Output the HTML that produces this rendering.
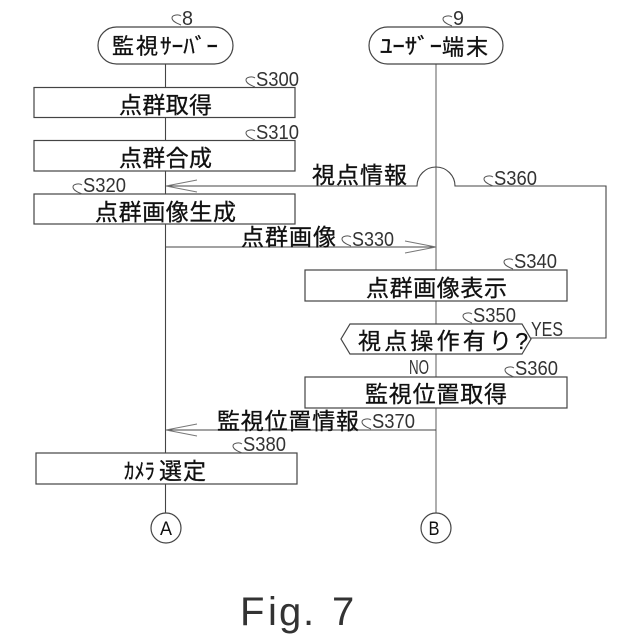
<!DOCTYPE html>
<html><head><meta charset="utf-8"><style>
html,body{margin:0;padding:0;background:#fff}
svg{display:block}
text{font-family:"Liberation Sans","Noto Sans CJK JP",sans-serif;fill:#111}
.j{font-size:23px;stroke:#111;stroke-width:.3}
.k{font-size:22px;stroke:#111;stroke-width:.3}
.s{font-size:20px;fill:#333}
.b{fill:#fff;stroke:#444;stroke-width:1.2}
.l{fill:none;stroke:#444;stroke-width:1.1}
.a{fill:none;stroke:#777;stroke-width:1}
.v{fill:none;stroke:#999;stroke-width:1.6}
.c{fill:none;stroke:#555;stroke-width:1}
</style></head><body>
<svg width="640" height="640" viewBox="0 0 640 640" xmlns="http://www.w3.org/2000/svg">
<path class="l" d="M165.500 64V513"/>
<path class="v" d="M436 64V513"/>
<path class="l" d="M166 186H417A19 19 0 0 1 455 186H606V338H531"/>
<path class="l" d="M166 247H436"/>
<path class="a" d="M405 241L436 247L405 253"/>
<path class="l" d="M436 430H166"/>
<path class="a" d="M197 424L166 430L197 436"/>
<path class="a" d="M197 180L166 186L197 192"/>
<rect class="b" x="98" y="27" width="135" height="37" rx="18.500"/>
<rect class="b" x="369" y="27" width="134" height="37" rx="18.500"/>
<rect class="b" x="34" y="87.500" width="261" height="30"/>
<rect class="b" x="34" y="140.500" width="261" height="30.500"/>
<rect class="b" x="34" y="194" width="261" height="30"/>
<rect class="b" x="305" y="270" width="262" height="31"/>
<path class="b" d="M350 324H522L531 339L522 354H350L341 339Z"/>
<rect class="b" x="305" y="377" width="262" height="31"/>
<rect class="b" x="36" y="453" width="261" height="31"/>
<circle class="b" cx="166" cy="528" r="15"/>
<circle class="b" cx="436" cy="528" r="15"/>
<text class="k" x="112" y="54" textLength="46">監視</text>
<text class="k" x="160" y="54" textLength="58" lengthAdjust="spacingAndGlyphs">ｻｰﾊﾞｰ</text>
<text class="k" x="380" y="54" textLength="62" lengthAdjust="spacingAndGlyphs">ﾕｰｻﾞｰ</text>
<text class="k" x="442" y="55" textLength="46">端末</text>
<text class="j" x="119" y="113" textLength="93">点群取得</text>
<text class="j" x="119" y="166" textLength="93">点群合成</text>
<text class="j" x="95" y="220" textLength="141">点群画像生成</text>
<text class="j" x="366" y="296" textLength="141">点群画像表示</text>
<text class="j" x="358" y="349" textLength="170">視点操作有り?</text>
<text class="j" x="365" y="402" textLength="142">監視位置取得</text>
<text class="k" x="124" y="479" textLength="31" lengthAdjust="spacingAndGlyphs">ｶﾒﾗ</text>
<text class="j" x="159" y="479" textLength="47">選定</text>
<text class="j" x="312" y="183" textLength="95">視点情報</text>
<text class="j" x="241" y="245" textLength="95">点群画像</text>
<text class="j" x="217" y="429" textLength="142">監視位置情報</text>
<text class="s" x="182" y="25" textLength="11" lengthAdjust="spacingAndGlyphs">8</text>
<text class="s" x="453" y="25" textLength="11" lengthAdjust="spacingAndGlyphs">9</text>
<text class="s" x="256" y="86" textLength="43" lengthAdjust="spacingAndGlyphs">S300</text>
<text class="s" x="256" y="139" textLength="43" lengthAdjust="spacingAndGlyphs">S310</text>
<text class="s" x="83" y="192" textLength="43" lengthAdjust="spacingAndGlyphs">S320</text>
<text class="s" x="494" y="185" textLength="43" lengthAdjust="spacingAndGlyphs">S360</text>
<text class="s" x="352" y="246" textLength="42" lengthAdjust="spacingAndGlyphs">S330</text>
<text class="s" x="514" y="268" textLength="43" lengthAdjust="spacingAndGlyphs">S340</text>
<text class="s" x="473" y="322" textLength="43" lengthAdjust="spacingAndGlyphs">S350</text>
<text class="s" x="515" y="375" textLength="43" lengthAdjust="spacingAndGlyphs">S360</text>
<text class="s" x="372" y="428" textLength="43" lengthAdjust="spacingAndGlyphs">S370</text>
<text class="s" x="243" y="451" textLength="43" lengthAdjust="spacingAndGlyphs">S380</text>
<text class="s" x="531" y="336" textLength="32" lengthAdjust="spacingAndGlyphs">YES</text>
<text class="s" x="409" y="374" textLength="20" lengthAdjust="spacingAndGlyphs">NO</text>
<text x="166" y="535" font-size="19" text-anchor="middle" textLength="12" lengthAdjust="spacingAndGlyphs">A</text>
<text x="434" y="535" font-size="19" text-anchor="middle" textLength="11" lengthAdjust="spacingAndGlyphs">B</text>
<path class="c" d="M181 25c-5-2-9-4-9-7c0-3 6-4 9-2M452 26c-5-2-9-4-9-7c0-3 6-4 9-2M255 87c-5-2-9-4-9-7c0-3 6-4 9-2M255 140c-5-2-9-4-9-7c0-3 6-4 9-2M82 194c-5-2-9-4-9-7c0-3 6-4 9-2M493 186c-5-2-9-4-9-7c0-3 6-4 9-2M351 246c-5-2-9-4-9-7c0-3 6-4 9-2M513 269c-5-2-9-4-9-7c0-3 6-4 9-2M472 323c-5-2-9-4-9-7c0-3 6-4 9-2M514 377c-5-2-9-4-9-7c0-3 6-4 9-2M371 429c-5-2-9-4-9-7c0-3 6-4 9-2M242 453c-5-2-9-4-9-7c0-3 6-4 9-2"/>
<text y="625" font-size="40" x="240 268 279 303 332" style="fill:#333">Fig.7</text>
</svg>
</body></html>
